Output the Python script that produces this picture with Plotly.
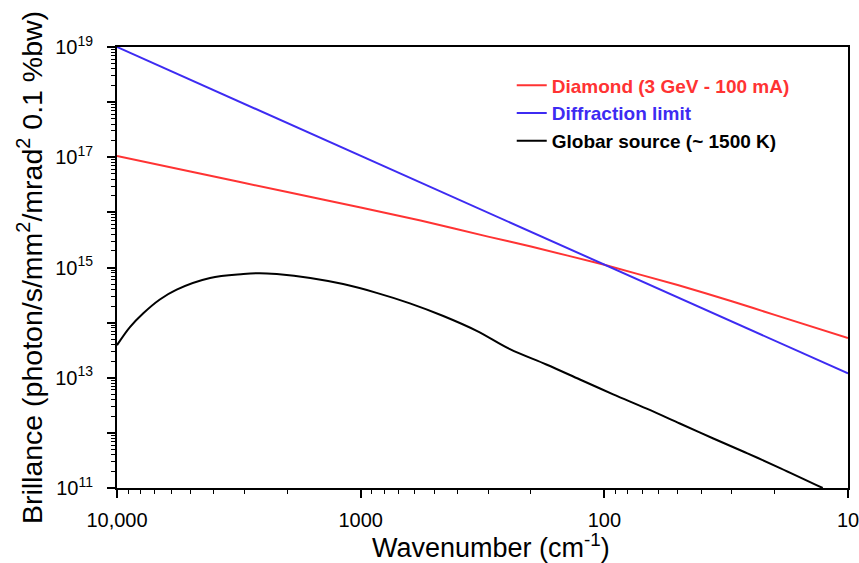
import plotly.graph_objects as go

# ---- data ----
diamond_wn = [10000, 5000, 2000, 1000, 568, 300, 200, 100, 50, 30, 20, 10]
diamond_val = [1.05e17, 5.5e16, 2.34e16, 1.23e16, 7.1e15, 3.63e15, 2.4e15, 1.12e15,
               4.8e14, 2.45e14, 1.38e14, 5.25e13]

diffr_wn = [10000, 1000, 100, 10]
diffr_val = [1.0e19, 1.07e17, 1.12e15, 1.2e13]

globar_wn = [10000, 8850, 7800, 6670, 5690, 4150, 3030, 2600, 2210, 1610, 1180, 860, 628,
             458, 334, 244, 173, 126, 92, 67, 49, 35.7, 26, 19, 12.7]
globar_val = [3.9e13, 8.3e13, 1.48e14, 2.63e14, 3.98e14, 6.46e14, 7.6e14, 7.9e14, 7.6e14,
              6.46e14, 5.0e14, 3.47e14, 2.24e14, 1.32e14, 7.1e13, 3.3e13, 1.74e13,
              9.3e12, 5.0e12, 2.75e12, 1.48e12, 7.9e11, 4.3e11, 2.3e11, 1.0e11]

x_tick_vals = [10000, 1000, 100, 10]
x_tick_text = ["10,000", "1000", "100", "10"]
y_exponents = list(range(11, 20))

RED = "#FF3333"
BLUE = "#3D2BF2"
BLACK = "#000000"

fig = go.Figure()
fig.add_trace(go.Scatter(
    x=diamond_wn, y=diamond_val, mode="lines",
    line=dict(color=RED, width=2, shape="spline", smoothing=0.3),
    name=f"<span style='color:{RED}'><b>Diamond (3 GeV - 100 mA)</b></span>"))
fig.add_trace(go.Scatter(
    x=diffr_wn, y=diffr_val, mode="lines",
    line=dict(color=BLUE, width=2),
    name=f"<span style='color:{BLUE}'><b>Diffraction limit</b></span>"))
fig.add_trace(go.Scatter(
    x=globar_wn, y=globar_val, mode="lines",
    line=dict(color=BLACK, width=2, shape="spline", smoothing=1.0),
    name="<b>Globar source (~ 1500 K)</b>"))

# tick helpers
y_major = [10.0 ** e for e in y_exponents]
y_text = [f"10<sup>{e}</sup>" if e % 2 == 1 else "" for e in y_exponents]
y_minor = [m * 10.0 ** e for e in y_exponents[:-1] for m in range(2, 10)]
x_minor = [m * 10.0 ** e for e in range(1, 4) for m in range(2, 10)]

fig.update_layout(
    width=859, height=563,
    margin=dict(l=117, r=11, t=47, b=75, autoexpand=False),
    paper_bgcolor="white", plot_bgcolor="white",
    font=dict(family="Liberation Sans, Arial, sans-serif", color="black"),
    legend=dict(x=0.540, y=0.956, xanchor="left", yanchor="top",
                bgcolor="rgba(0,0,0,0)", font=dict(size=19, family="Liberation Sans, Arial"),
                tracegroupgap=0),
    showlegend=True,
    annotations=[dict(
        text="Wavenumber (cm<sup>-1</sup>)", xref="paper", yref="paper",
        x=0.512, y=-0.088, xanchor="center", yanchor="top", showarrow=False,
        font=dict(size=27, family="Liberation Sans Narrow, Arial Narrow, Liberation Sans"))],
)

fig.update_xaxes(
    type="log", range=[4, 1], showgrid=False, zeroline=False, automargin=False,
    showline=True, linecolor="black", linewidth=2, mirror=True,
    tickmode="array", tickvals=x_tick_vals, ticktext=x_tick_text,
    ticks="outside", ticklen=8, tickwidth=1.5, tickcolor="black",
    ticklabelstandoff=5, ticklabeloverflow="allow",
    tickfont=dict(size=20, family="Liberation Sans Narrow, Arial Narrow, Liberation Sans"),
    minor=dict(tickmode="array", tickvals=x_minor, ticks="outside", ticklen=4,
               tickwidth=1.2, tickcolor="black", showgrid=False),
)
fig.update_yaxes(
    type="log", range=[11, 19], showgrid=False, zeroline=False, automargin=False,
    showline=True, linecolor="black", linewidth=2, mirror=True,
    tickmode="array", tickvals=y_major, ticktext=y_text,
    ticks="outside", ticklen=8, tickwidth=1.5, tickcolor="black",
    ticklabelstandoff=10,
    tickfont=dict(size=20, family="Liberation Sans"),
    minor=dict(tickmode="array", tickvals=y_minor, ticks="outside", ticklen=4,
               tickwidth=1.2, tickcolor="black", showgrid=False),
    title=dict(text="Brillance (photon/s/mm<sup>2</sup>/mrad<sup>2</sup> 0.1 %bw)",
               standoff=4, font=dict(size=28.5, family="Liberation Sans")),
)

fig.write_html("out.html", config={"displayModeBar": False},
               post_script="document.body.style.margin='0';")
